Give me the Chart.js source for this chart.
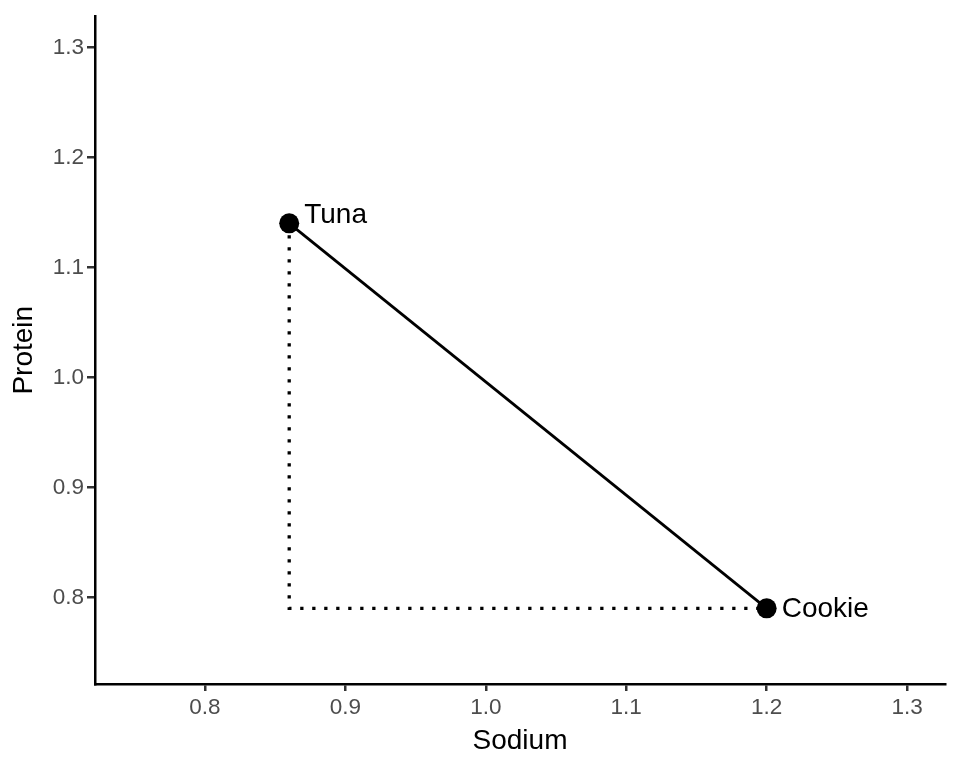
<!DOCTYPE html>
<html>
<head>
<meta charset="utf-8">
<script src="https://cdn.jsdelivr.net/npm/chart.js@4.4.1/dist/chart.umd.min.js"></script>
<style>
  body { margin: 0; background: #fff; }
  #wrap { width: 960px; height: 768px; }
</style>
</head>
<body>
<div id="wrap"><canvas id="myChart" width="960" height="768"></canvas></div>
<script>
const foods = ["Tuna", "Cookie"];
const sodium = [0.86, 1.2];
const protein = [1.14, 0.79];

const xTicks = [0.8, 0.9, 1.0, 1.1, 1.2, 1.3];
const yTicks = [0.8, 0.9, 1.0, 1.1, 1.2, 1.3];
const xRange = [0.7217, 1.327];
const yRange = [0.7212, 1.328];

const puntos = foods.map((f, i) => ({ x: sodium[i], y: protein[i] }));
// dotted guide: down from Tuna, then across to Cookie
const guia = [
  { x: sodium[0], y: protein[0] },
  { x: sodium[0], y: protein[1] },
  { x: sodium[1], y: protein[1] },
];

const etiquetas = {
  id: "etiquetas",
  afterDatasetsDraw(chart) {
    const c = chart.ctx;
    const xs = chart.scales.x;
    const ys = chart.scales.y;
    const dy = [-8, 1];
    c.save();
    c.font = "28px 'Liberation Sans', Arial, sans-serif";
    c.fillStyle = "#000";
    c.textAlign = "left";
    c.textBaseline = "middle";
    foods.forEach((f, i) => {
      c.fillText(f, xs.getPixelForValue(sodium[i]) + 15, ys.getPixelForValue(protein[i]) + dy[i]);
    });
    c.restore();
  },
};

const tickFont = { family: "'Liberation Sans', Arial, sans-serif", size: 22.5 };
const titleFont = { family: "'Liberation Sans', Arial, sans-serif", size: 28 };

const ctx = document.getElementById("myChart").getContext("2d");
new Chart(ctx, {
  type: "scatter",
  data: {
    datasets: [
      {
        data: guia,
        showLine: true,
        borderColor: "#000",
        borderWidth: 3.3,
        borderDash: [3.3, 8.7],
        pointRadius: 0,
        order: 2,
      },
      {
        data: puntos,
        showLine: true,
        borderColor: "#000",
        borderWidth: 2.8,
        backgroundColor: "#000",
        pointBackgroundColor: "#000",
        pointBorderWidth: 0,
        pointRadius: 10,
        order: 1,
      },
    ],
  },
  options: {
    responsive: false,
    animation: false,
    layout: { padding: { top: 15, right: 15, left: 0, bottom: 0 } },
    plugins: { legend: { display: false }, tooltip: { enabled: false } },
    scales: {
      x: {
        type: "linear",
        min: xRange[0],
        max: xRange[1],
        afterBuildTicks: (s) => { s.ticks = xTicks.map((v) => ({ value: v })); },
        afterFit: (s) => { s.height = 84; },
        ticks: { color: "#4d4d4d", font: tickFont, padding: 3, maxRotation: 0,
                 callback: (v) => v.toFixed(1) },
        grid: { drawOnChartArea: false, drawTicks: true, tickLength: 7, color: "#333", lineWidth: 2.5 },
        border: { display: true, color: "#000", width: 2.5 },
        title: { display: true, text: "Sodium", color: "#000", font: titleFont, padding: { top: 0, bottom: 10 } },
      },
      y: {
        type: "linear",
        min: yRange[0],
        max: yRange[1],
        afterBuildTicks: (s) => { s.ticks = yTicks.map((v) => ({ value: v })); },
        afterFit: (s) => { s.width = 95; },
        ticks: { color: "#4d4d4d", font: tickFont, padding: 3,
                 callback: (v) => v.toFixed(1) },
        grid: { drawOnChartArea: false, drawTicks: true, tickLength: 8, color: "#333", lineWidth: 2.5 },
        border: { display: true, color: "#000", width: 2.5 },
        title: { display: true, text: "Protein", color: "#000", font: titleFont, padding: { top: 7, bottom: 0 } },
      },
    },
  },
  plugins: [etiquetas],
});
</script>
</body>
</html>
